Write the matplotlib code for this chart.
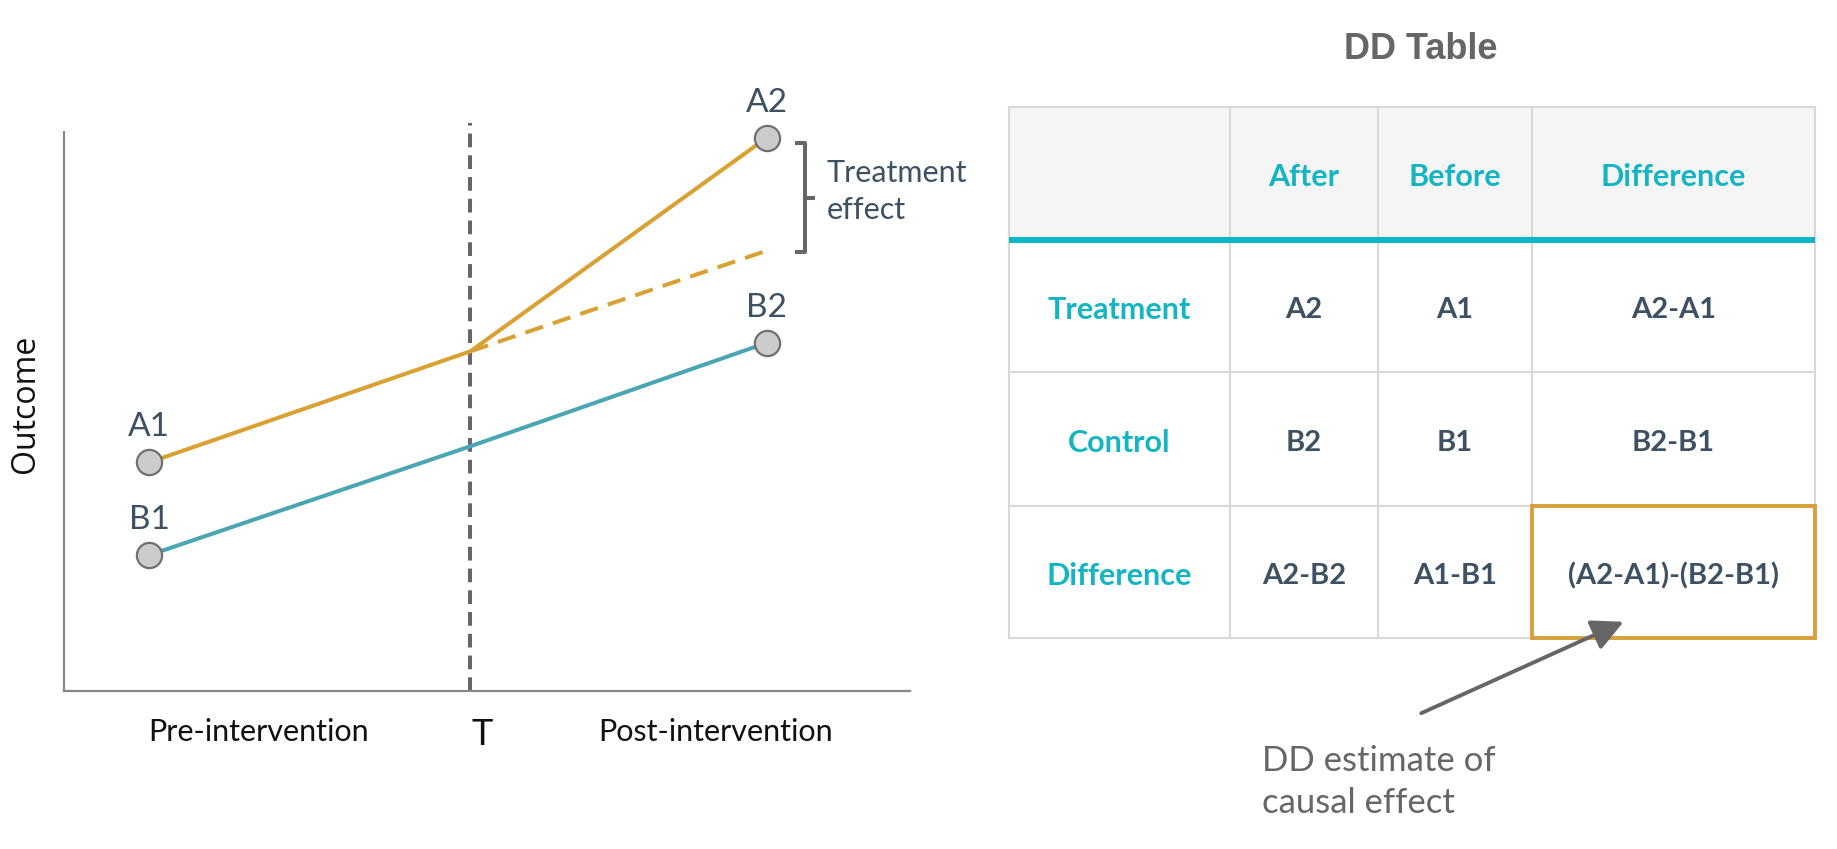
import matplotlib
matplotlib.use("Agg")
import matplotlib.pyplot as plt
from matplotlib.patches import Rectangle, FancyArrowPatch

# ---------------- data ----------------
time_x = [1.0, 4.8, 8.3]             # pre, T, post
treatment_y = [4.09, 6.08, 9.90]      # A1, at T, A2
control_y = [2.43, 4.38, 6.23]        # B1, at T, B2
counterfactual_x = [4.8, 8.3]
counterfactual_y = [6.08, 7.88]
point_labels = ["A1", "A2", "B1", "B2"]
x_labels = ["Pre-intervention", "T", "Post-intervention"]
x_label_pos = [2.29, 4.94, 7.70]

table_title = "DD Table"
col_headers = ["After", "Before", "Difference"]
row_headers = ["Treatment", "Control", "Difference"]
cells = [["A2", "A1", "A2-A1"],
         ["B2", "B1", "B2-B1"],
         ["A2-B2", "A1-B1", "(A2-A1)-(B2-B1)"]]
annotation = "DD estimate of\ncausal effect"

# ---------------- style ----------------
ORANGE = "#d9a032"
TEAL = "#4aa6b3"
TEAL_TXT = "#13b4c4"
DARK = "#3e5163"
GREY = "#666666"
FONT = ["Lato", "DejaVu Sans"]
LW = 2.9

W, H = 1568, 725
fig = plt.figure(figsize=(18.37, 8.49), dpi=100)

def fx(x):
    return x / W
def fy(y):
    return 1 - y / H

# ---------------- left chart ----------------
ax = fig.add_axes([fx(55), fy(590), fx(777) - fx(55), fy(113) - fy(590)])
ax.set_xlim(0, 10)
ax.set_ylim(0, 10)
for s in ["top", "right"]:
    ax.spines[s].set_visible(False)
for s in ["left", "bottom"]:
    ax.spines[s].set_color("#888888")
    ax.spines[s].set_linewidth(1.6)
ax.set_xticks([])
ax.set_yticks([])

ax.axvline(time_x[1], color=GREY, lw=LW, dashes=(3.4, 2.0), ymin=0, ymax=1.017,
           clip_on=False, zorder=1)
ax.plot(time_x, treatment_y, color=ORANGE, lw=LW, zorder=2, clip_on=False)
ax.plot(counterfactual_x, counterfactual_y, color=ORANGE, lw=LW, dashes=(4.6, 2.6),
        zorder=2, clip_on=False)
ax.plot(time_x, control_y, color=TEAL, lw=LW, zorder=2, clip_on=False)

pts_x = [time_x[0], time_x[2], time_x[0], time_x[2]]
pts_y = [treatment_y[0], treatment_y[2], control_y[0], control_y[2]]
ax.scatter(pts_x, pts_y, s=330, facecolor="#cccccc", edgecolor="#707070",
           linewidth=1.6, zorder=4, clip_on=False)
for lab, x, y in zip(point_labels, pts_x, pts_y):
    ax.text(x, y + 0.36, lab, ha="center", va="bottom", fontsize=24,
            color=DARK, family=FONT)

# bracket for treatment effect
bx = 8.3 + (687 - 654) / 72.2
top_b = treatment_y[2] - 0.1
bot_b = counterfactual_y[1] - 0.03
ax.plot([bx - 0.1, bx, bx, bx - 0.1], [top_b, top_b, bot_b, bot_b],
        color=GREY, lw=LW, clip_on=False, solid_joinstyle="round")
mid = (top_b + bot_b) / 2
ax.plot([bx, bx + 0.09], [mid, mid], color=GREY, lw=LW, clip_on=False)
ax.text(bx + 0.25, mid + 0.12, "Treatment\neffect", ha="left", va="center",
        fontsize=22, color=DARK, family=FONT, linespacing=1.4)

for lab, x in zip(x_labels, x_label_pos):
    ax.text(x, -0.78 if lab == "T" else -0.74, lab, ha="center", va="center",
            fontsize=26 if lab == "T" else 22, color="#111111", family=FONT)
ax.text(-0.46, 5.14, "Outcome", rotation=90, ha="center", va="center",
        fontsize=23, color="#111111", family=["Open Sans", "DejaVu Sans"])

# ---------------- table (overlay in display pixel coords) ----------------
tx = fig.add_axes([0, 0, 1, 1], facecolor="none")
tx.set_xlim(0, W)
tx.set_ylim(H, 0)
tx.axis("off")

col_edges = [861, 1050, 1176, 1308, 1549]
row_edges = [91, 205, 318, 432, 545]
LINE = "#d8d8d8"

tx.add_patch(Rectangle((col_edges[0], row_edges[0]), col_edges[-1] - col_edges[0],
                       row_edges[1] - row_edges[0], facecolor="#f5f5f5",
                       edgecolor="none", zorder=0))
for x in col_edges:
    tx.plot([x, x], [row_edges[0], row_edges[-1]], color=LINE, lw=1.5, zorder=1)
for y in row_edges:
    tx.plot([col_edges[0], col_edges[-1]], [y, y], color=LINE, lw=1.5, zorder=1)
tx.plot([col_edges[0], col_edges[-1]], [row_edges[1], row_edges[1]],
        color="#0cb6c4", lw=4.3, solid_capstyle="butt", zorder=2)

def cx(i):
    return (col_edges[i] + col_edges[i + 1]) / 2
def cy(j):
    return (row_edges[j] + row_edges[j + 1]) / 2

tx.text(1213, 42, table_title, ha="center", va="center",
        fontsize=26, fontweight="bold", color=GREY,
        family=["Liberation Sans", "DejaVu Sans"])
for i, h in enumerate(col_headers):
    tx.text(cx(i + 1), cy(0) + 3, h, ha="center", va="center", fontsize=22,
            fontweight="bold", color=TEAL_TXT, family=FONT)
for j, r in enumerate(row_headers):
    tx.text(cx(0), cy(j + 1) + 3, r, ha="center", va="center", fontsize=22,
            fontweight="bold", color=TEAL_TXT, family=FONT)
    for i, v in enumerate(cells[j]):
        tx.text(cx(i + 1), cy(j + 1) + 3, v, ha="center", va="center", fontsize=21,
                fontweight="bold", color=DARK, family=FONT)

tx.add_patch(Rectangle((col_edges[3], row_edges[3]), col_edges[4] - col_edges[3],
                       row_edges[4] - row_edges[3], facecolor="none",
                       edgecolor="#d9a03a", lw=2.8, zorder=3))

tx.add_patch(FancyArrowPatch((1211, 610), (1388, 530), arrowstyle="-|>,head_length=12,head_width=6",
                             color=GREY, lw=2.8, mutation_scale=1.6, zorder=4))
tx.text(1077, 668, annotation, ha="left", va="center", fontsize=25, color=GREY,
        family=FONT, linespacing=1.4)

fig.savefig("out.png", dpi=100)
